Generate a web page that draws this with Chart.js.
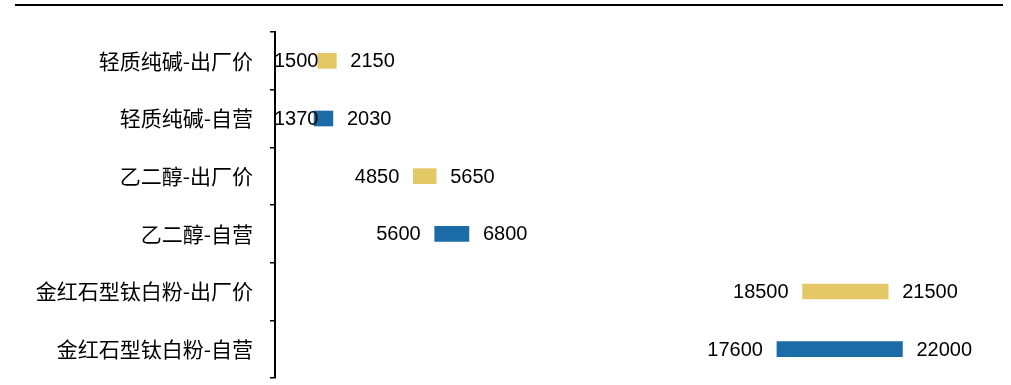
<!DOCTYPE html>
<html>
<head>
<meta charset="utf-8">
<script src="https://cdn.jsdelivr.net/npm/chart.js@4/dist/chart.umd.min.js"></script>
<style>
  html, body { margin: 0; padding: 0; background: #fff; }
  #wrap { width: 1011px; height: 385px; }
</style>
</head>
<body>
<div id="wrap"><canvas id="myChart" width="1011" height="385"></canvas></div>
<script>
// 价格区间：每一行是 [低, 高]
const categories = [
  "轻质纯碱-出厂价",
  "轻质纯碱-自营",
  "乙二醇-出厂价",
  "乙二醇-自营",
  "金红石型钛白粉-出厂价",
  "金红石型钛白粉-自营",
];
const lowValues = [1500, 1370, 4850, 5600, 18500, 17600];
const highValues = [2150, 2030, 5650, 6800, 21500, 22000];

const GOLD = "#E4C866";
const BLUE = "#1B6BA6";

// 出厂价用黄色，自营用蓝色
const barColors = categories.map((c) => (c.endsWith("出厂价") ? GOLD : BLUE));

// 顶部横线
const topRule = {
  id: "topRule",
  beforeDraw(chart) {
    const ctx = chart.ctx;
    ctx.save();
    ctx.strokeStyle = "#000";
    ctx.lineWidth = 2;
    ctx.beginPath();
    ctx.moveTo(15, 5);
    ctx.lineTo(1003, 5);
    ctx.stroke();
    ctx.restore();
  },
};

// 在柱子两端写低值和高值
const endLabels = {
  id: "endLabels",
  afterDatasetsDraw(chart) {
    const ctx = chart.ctx;
    const meta = chart.getDatasetMeta(0);
    const left = chart.chartArea.left;
    const gap = 14;
    ctx.save();
    ctx.font = "20px 'Liberation Sans', Arial, sans-serif";
    ctx.fillStyle = "#000";
    ctx.textBaseline = "middle";
    meta.data.forEach((bar, i) => {
      const p = bar.getProps(["x", "y", "base"], true);
      const start = Math.min(p.x, p.base);
      const end = Math.max(p.x, p.base);
      const lowText = String(lowValues[i]);
      const highText = String(highValues[i]);
      const w = ctx.measureText(lowText).width;
      // 低值标签不压到纵轴上
      const lowRight = Math.max(start - gap, left - 1 + w);
      ctx.textAlign = "right";
      ctx.fillText(lowText, lowRight, p.y + 1);
      ctx.textAlign = "left";
      ctx.fillText(highText, end + gap, p.y + 1);
    });
    ctx.restore();
  },
};

const ctx = document.getElementById("myChart").getContext("2d");
const myChart = new Chart(ctx, {
  type: "bar",
  data: {
    labels: categories,
    datasets: [
      {
        data: lowValues.map((lo, i) => [lo, highValues[i]]),
        backgroundColor: barColors,
        borderWidth: 0,
        borderSkipped: false,
        barThickness: 15,
      },
    ],
  },
  options: {
    indexAxis: "y",
    responsive: false,
    animation: false,
    devicePixelRatio: 1,
    layout: {
      padding: { left: 0, right: 23, top: 32, bottom: 7 },
    },
    plugins: {
      legend: { display: false },
      tooltip: { enabled: false },
    },
    scales: {
      x: {
        display: false,
        min: 0,
        max: 25000,
      },
      y: {
        afterFit(scale) {
          scale.width = 275;
          scale.paddingTop = 0;
          scale.paddingBottom = 0;
        },
        border: { display: true, color: "#000", width: 2 },
        grid: {
          offset: true,
          drawOnChartArea: false,
          drawTicks: true,
          tickLength: 5,
          color: "#000",
          lineWidth: 1.5,
        },
        ticks: {
          padding: 17,
          color: "#000",
          font: { family: "'Noto Sans CJK SC', sans-serif", size: 21 },
        },
      },
    },
  },
  plugins: [topRule, endLabels],
});
</script>
</body>
</html>
